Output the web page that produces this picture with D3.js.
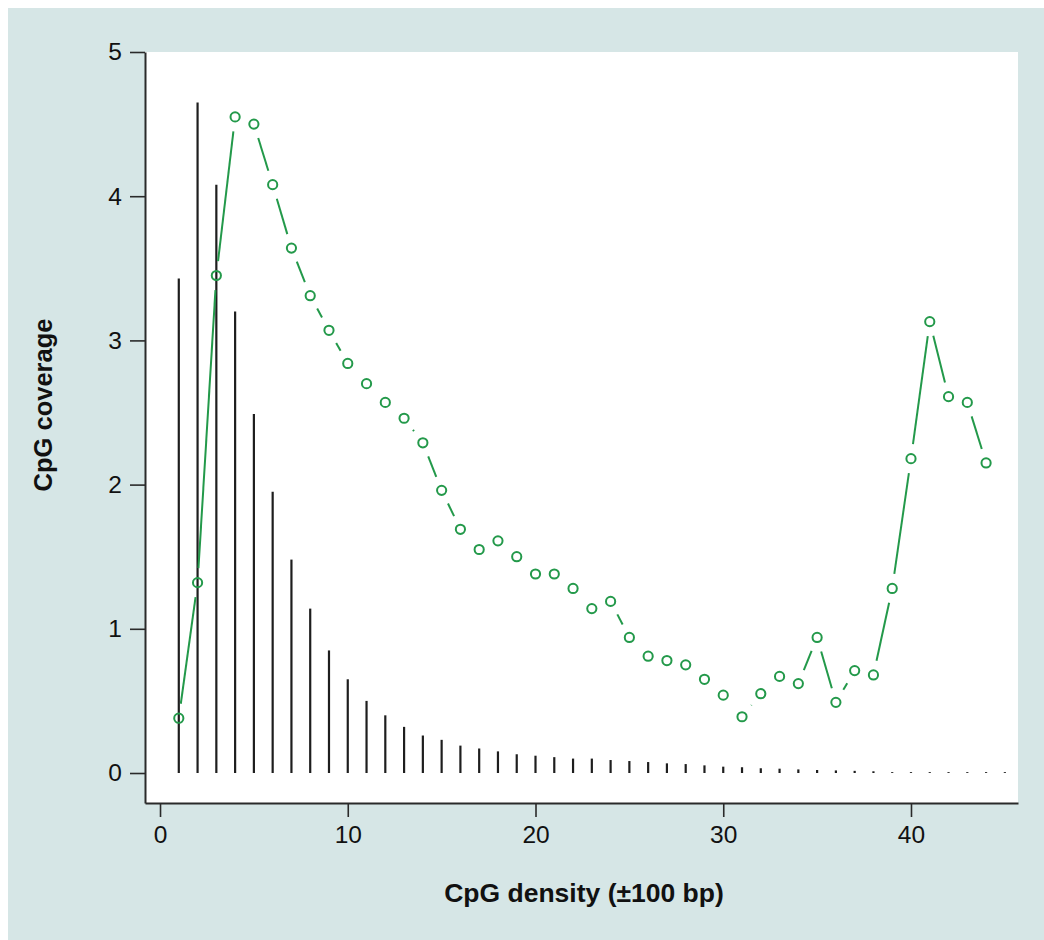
<!DOCTYPE html>
<html>
<head>
<meta charset="utf-8">
<script src="https://cdn.jsdelivr.net/npm/d3@7"></script>
<style>
  body { margin: 0; background: #fff; }
  text { font-family: 'Liberation Sans', Arial, sans-serif; }
</style>
</head>
<body>
<div id="graph"></div>
<script>
'use strict'

// CpG density bins (x) and histogram heights (black vertical lines)
const density = d3.range(1, 46)
const histogram = [
  3.43, 4.65, 4.08, 3.20, 2.49, 1.95, 1.48, 1.14, 0.85, 0.65,
  0.50, 0.40, 0.32, 0.26, 0.23, 0.19, 0.17, 0.15, 0.13, 0.12,
  0.11, 0.10, 0.10, 0.09, 0.083, 0.076, 0.067, 0.062, 0.053, 0.044,
  0.040, 0.033, 0.030, 0.025, 0.021, 0.018, 0.015, 0.012, 0.006, 0.006,
  0.006, 0.006, 0.006, 0.006, 0.006
]

// CpG coverage (green points, type "b")
const coverageX = d3.range(1, 45)
const coverage = [
  0.38, 1.32, 3.45, 4.55, 4.50, 4.08, 3.64, 3.31, 3.07, 2.84,
  2.70, 2.57, 2.46, 2.29, 1.96, 1.69, 1.55, 1.61, 1.50, 1.38,
  1.38, 1.28, 1.14, 1.19, 0.94, 0.81, 0.78, 0.75, 0.65, 0.54,
  0.39, 0.55, 0.67, 0.62, 0.94, 0.49, 0.71, 0.68, 1.28, 2.18,
  3.13, 2.61, 2.57, 2.15
]

const xTicks = [0, 10, 20, 30, 40]
const yTicks = [0, 1, 2, 3, 4, 5]

let W = 1044, H = 940
let svg = d3.select('#graph').append('svg')
  .attr('width', W)
  .attr('height', H)

// panel background
svg.append('rect')
  .attr('x', 8).attr('y', 8)
  .attr('width', W - 8).attr('height', H - 8)
  .attr('fill', '#d6e6e6')

let x = d3.scaleLinear().domain([-0.8, 45.7]).range([145, 1018])
let y = d3.scaleLinear().domain([-0.208, 5]).range([803, 52])

svg.append('rect')
  .attr('x', x.range()[0]).attr('y', y.range()[1])
  .attr('width', x.range()[1] - x.range()[0])
  .attr('height', y.range()[0] - y.range()[1])
  .attr('fill', '#fff')

let axisColor = '#2a2a2a'

let xAxis = svg.append('g')
  .attr('transform', `translate(0, ${y.range()[0]})`)
  .call(d3.axisBottom(x).tickValues(xTicks).tickFormat(d3.format('d'))
    .tickSize(14).tickSizeOuter(0).tickPadding(9))
let yAxis = svg.append('g')
  .attr('transform', `translate(${x.range()[0]}, 0)`)
  .call(d3.axisLeft(y).tickValues(yTicks).tickFormat(d3.format('d'))
    .tickSize(15).tickSizeOuter(0).tickPadding(8))

;[xAxis, yAxis].forEach(a => {
  a.select('.domain').attr('stroke', axisColor).attr('stroke-width', 2)
  a.selectAll('.tick line').attr('stroke', axisColor).attr('stroke-width', 1.6)
  a.selectAll('.tick text')
    .attr('fill', '#111')
    .style('font-size', '24.5px')
    .style('font-family', "'Liberation Sans', Arial, sans-serif")
})

// histogram lines
svg.append('g')
  .selectAll('line')
  .data(density)
  .join('line')
    .attr('x1', d => x(d))
    .attr('x2', d => x(d))
    .attr('y1', y(0))
    .attr('y2', (d, i) => y(histogram[i]))
    .attr('stroke', '#1e1e1e')
    .attr('stroke-width', 2.2)

// coverage: segments with gaps around the points (R type = "b")
let green = '#23994a'
let pts = coverageX.map((d, i) => [x(d), y(coverage[i])])
let gap = 14.6
let segs = d3.pairs(pts).map(([a, b]) => {
  let dx = b[0] - a[0], dy = b[1] - a[1]
  let L = Math.hypot(dx, dy)
  if (L <= 2 * gap) return null
  let ux = dx / L, uy = dy / L
  return [a[0] + ux * gap, a[1] + uy * gap, b[0] - ux * gap, b[1] - uy * gap]
}).filter(s => s)

svg.append('g')
  .selectAll('line')
  .data(segs)
  .join('line')
    .attr('x1', d => d[0])
    .attr('y1', d => d[1])
    .attr('x2', d => d[2])
    .attr('y2', d => d[3])
    .attr('stroke', green)
    .attr('stroke-width', 2)

svg.append('g')
  .selectAll('circle')
  .data(pts)
  .join('circle')
    .attr('cx', d => d[0])
    .attr('cy', d => d[1])
    .attr('r', 4.6)
    .attr('fill', 'none')
    .attr('stroke', green)
    .attr('stroke-width', 2)

// axis titles
svg.append('text')
  .attr('x', 584)
  .attr('y', 902)
  .attr('text-anchor', 'middle')
  .style('font-size', '26.5px')
  .style('font-weight', 'bold')
  .attr('fill', '#111')
  .text('CpG density (±100 bp)')

svg.append('text')
  .attr('transform', 'translate(52, 405) rotate(-90)')
  .attr('text-anchor', 'middle')
  .style('font-size', '25.5px')
  .style('font-weight', 'bold')
  .attr('fill', '#111')
  .text('CpG coverage')
</script>
</body>
</html>
